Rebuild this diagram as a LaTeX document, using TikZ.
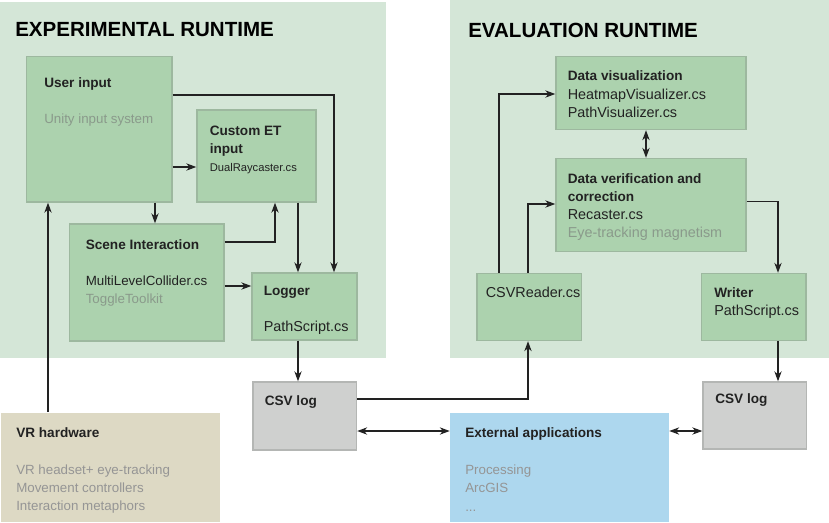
\documentclass[tikz,border=0pt]{standalone}
\usepackage{fontspec}
\setmainfont{Liberation Sans}
\usetikzlibrary{arrows.meta,fit}
\definecolor{panel}{HTML}{D4E6D7}
\definecolor{gfill}{HTML}{ACD2AE}
\definecolor{gline}{HTML}{9DB89F}
\definecolor{cfill}{HTML}{CFD0CF}
\definecolor{cline}{HTML}{B4B6B4}
\definecolor{bfill}{HTML}{ADD7EE}
\definecolor{vfill}{HTML}{DDD9C4}
\definecolor{gtext}{HTML}{8A9A8B}
\definecolor{btext}{HTML}{959595}
\definecolor{ink}{HTML}{222222}
\begin{document}
\begin{tikzpicture}[x=0.75pt,y=-0.75pt,
  gbox/.style={draw=gline,line width=1.1pt,fill=gfill,inner sep=0pt},
  cbox/.style={draw=cline,line width=1.1pt,fill=cfill,inner sep=0pt},
  bbox/.style={fill=bfill,inner sep=0pt},
  vbox/.style={fill=vfill,inner sep=0pt},
  pnl/.style={fill=panel,inner sep=0pt},
  tx/.style={anchor=base west,inner sep=0pt,text=ink,font=\fontsize{10}{12}\selectfont},
  txb/.style={tx,font=\fontsize{10.2}{12}\selectfont\bfseries},
  txe/.style={tx,font=\fontsize{10.8}{12}\selectfont},
  txs/.style={tx,font=\fontsize{8.4}{10}\selectfont},
  ttl/.style={tx,text=black,font=\fontsize{15.4}{18}\selectfont\bfseries},
  arr/.style={draw=ink,line width=0.8pt,-{Stealth[length=7.5pt,width=5.5pt]}},
  darr/.style={draw=ink,line width=0.8pt,{Stealth[length=7.5pt,width=5.5pt]}-{Stealth[length=7.5pt,width=5.5pt]}}]
\useasboundingbox (0,0) rectangle (829,522);
% panels
\node[pnl,fit={(0,2)(386,358)}] (exp) {};
\node[pnl,fit={(450,0)(829,358)}] (eva) {};
\node[ttl] (t-exp) at (15,36.5) {EXPERIMENTAL RUNTIME};
\node[ttl] (t-eva) at (468,37) {EVALUATION RUNTIME};
% boxes
\node[gbox,fit={(26.5,56.5)(172,202)}] (ui) {};
\node[gbox,fit={(197,110)(316,202)}] (cet) {};
\node[gbox,fit={(69.5,224)(224,341)}] (si) {};
\node[gbox,fit={(252,273)(357,340)}] (lg) {};
\node[gbox,fit={(556,56.5)(746,129.5)}] (dv) {};
\node[gbox,fit={(556,158.5)(746,251.5)}] (dvc) {};
\node[gbox,fit={(477,273.5)(581.5,340.5)}] (csvr) {};
\node[gbox,fit={(701.5,273.5)(806,340.5)}] (wr) {};
\node[cbox,fit={(253,382)(356.5,450)}] (csv1) {};
\node[cbox,fit={(703,382)(806.5,449)}] (csv2) {};
\node[bbox,fit={(450,412.5)(669,522)}] (ext) {};
\node[vbox,fit={(1,412.5)(220,522)}] (vr) {};
% texts
\node[txb] (t-ui1) at (44,87) {User input};
\node[tx,text=gtext] (t-ui2) at (44,123) {Unity input system};
\node[txb] (t-cet1) at (209.5,135) {Custom ET};
\node[txb] (t-cet2) at (209.5,153) {input};
\node[txs] (t-cet3) at (209.5,171) {DualRaycaster.cs};
\node[txb] (t-si1) at (85.5,249) {Scene Interaction};
\node[tx] (t-si2) at (85.5,285.5) {MultiLevelCollider.cs};
\node[tx,text=gtext] (t-si3) at (85.5,303.5) {ToggleToolkit};
\node[txb] (t-lg1) at (263.5,295) {Logger};
\node[txe] (t-lg2) at (263.5,331) {PathScript.cs};
\node[txb] (t-dv1) at (567.5,80.5) {Data visualization};
\node[txe] (t-dv2) at (567.5,99) {HeatmapVisualizer.cs};
\node[txe] (t-dv3) at (567.5,117) {PathVisualizer.cs};
\node[txb] (t-dvc1) at (567.5,183) {Data verification and};
\node[txb] (t-dvc2) at (567.5,201) {correction};
\node[txe] (t-dvc3) at (567.5,219) {Recaster.cs};
\node[txe,text=gtext] (t-dvc4) at (567.5,237) {Eye-tracking magnetism};
\node[txe] (t-csvr) at (485.5,297) {CSVReader.cs};
\node[txb] (t-wr1) at (714,297) {Writer};
\node[txe] (t-wr2) at (714,315) {PathScript.cs};
\node[txb] (t-csv1) at (264.5,405) {CSV log};
\node[txb] (t-csv2) at (715,403) {CSV log};
\node[txb] (t-ext1) at (465,437) {External applications};
\node[tx,text=btext] (t-ext2) at (465,474) {Processing};
\node[tx,text=btext] (t-ext3) at (465,492) {ArcGIS};
\node[tx,text=btext] (t-ext4) at (465,511) {...};
\node[txb] (t-vr1) at (16,437) {VR hardware};
\node[tx,text=btext] (t-vr2) at (16,474) {VR headset+ eye-tracking};
\node[tx,text=btext] (t-vr3) at (16,492) {Movement controllers};
\node[tx,text=btext] (t-vr4) at (16,510) {Interaction metaphors};
% connectors
\draw[arr] (ui.east |- 0,95) -| (lg.north -| 334,0);
\draw[arr] (ui.east |- 0,167) -- (cet.west |- 0,167);
\draw[arr] (ui.south -| 155,0) -- (si.north -| 155,0);
\draw[arr] (si.east |- 0,242) -| (cet.south -| 275,0);
\draw[arr] (cet.south -| 298,0) -- (lg.north -| 298,0);
\draw[arr] (si.east |- 0,286) -- (lg.west |- 0,286);
\draw[arr] (lg.south -| 298,0) -- (csv1.north -| 298,0);
\draw[arr] (vr.north -| 48,0) -- (ui.south -| 48,0);
\draw[arr] (csvr.north -| 499,0) |- (dv.west |- 0,94);
\draw[arr] (csvr.north -| 528,0) |- (dvc.west |- 0,204);
\draw[arr] (dvc.east |- 0,201.5) -| (wr.north -| 778,0);
\draw[arr] (wr.south -| 778,0) -- (csv2.north -| 778,0);
\draw[arr] (csv1.east |- 0,399) -| (csvr.south -| 528,0);
\draw[darr] (csv1.east |- 0,431) -- (ext.west |- 0,431);
\draw[darr] (ext.east |- 0,431) -- (csv2.west |- 0,431);
\draw[darr] (dv.south -| 646,0) -- (dvc.north -| 646,0);
\end{tikzpicture}
\end{document}
